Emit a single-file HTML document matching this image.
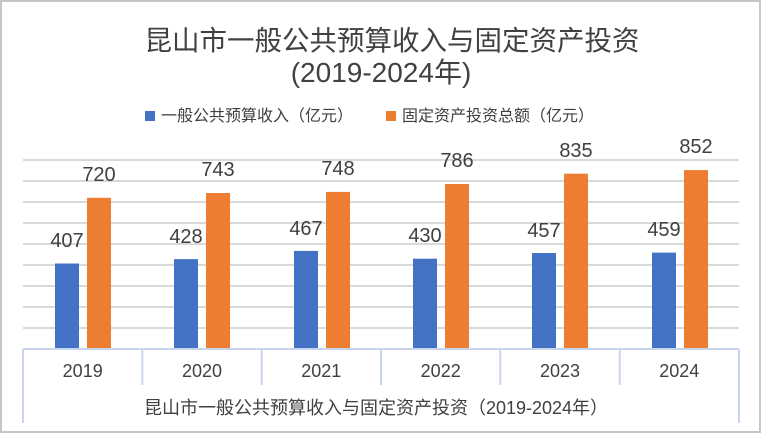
<!DOCTYPE html>
<html><head><meta charset="utf-8"><style>
html,body{margin:0;padding:0;background:#fff}
svg{display:block}
text{font-family:"Liberation Sans","Noto Sans CJK SC",sans-serif;fill:#404040}
</style></head><body>
<svg width="762" height="434" xmlns="http://www.w3.org/2000/svg">
<rect x="1" y="1" width="759" height="431" fill="#fff" stroke="#c6c6c6" stroke-width="2"/>
<text x="392" y="50" font-size="27.5" text-anchor="middle">昆山市一般公共预算收入与固定资产投资</text>
<text x="381" y="82" font-size="28" text-anchor="middle">(2019-2024年)</text>
<rect x="145" y="111" width="10" height="10" fill="#4472c4"/>
<text x="161" y="121" font-size="16">一般公共预算收入（亿元）</text>
<rect x="386" y="111" width="10" height="10" fill="#ed7d31"/>
<text x="402" y="121" font-size="16">固定资产投资总额（亿元）</text>
<g stroke="#d9d9d9" stroke-width="2">
<line x1="23" x2="739" y1="160" y2="160"/><line x1="23" x2="739" y1="181" y2="181"/>
<line x1="23" x2="739" y1="202" y2="202"/><line x1="23" x2="739" y1="223" y2="223"/>
<line x1="23" x2="739" y1="244" y2="244"/><line x1="23" x2="739" y1="265" y2="265"/>
<line x1="23" x2="739" y1="286" y2="286"/><line x1="23" x2="739" y1="307" y2="307"/>
<line x1="23" x2="739" y1="328" y2="328"/>
</g>
<g font-size="20" text-anchor="middle">
<rect x="55" y="263.5" width="24" height="85.5" fill="#4472c4"/><rect x="87" y="197.8" width="24" height="151.2" fill="#ed7d31"/>
<text x="67" y="247">407</text><text x="99" y="181">720</text>
<rect x="174" y="259.1" width="24" height="89.9" fill="#4472c4"/><rect x="206" y="193" width="24" height="156" fill="#ed7d31"/>
<text x="186" y="243">428</text><text x="218" y="176">743</text>
<rect x="294" y="250.9" width="24" height="98.1" fill="#4472c4"/><rect x="326" y="191.9" width="24" height="157.1" fill="#ed7d31"/>
<text x="306" y="235">467</text><text x="338" y="175">748</text>
<rect x="413" y="258.7" width="24" height="90.3" fill="#4472c4"/><rect x="445" y="184" width="24" height="165" fill="#ed7d31"/>
<text x="425" y="242">430</text><text x="457" y="167">786</text>
<rect x="532" y="253" width="24" height="96" fill="#4472c4"/><rect x="564" y="173.7" width="24" height="175.3" fill="#ed7d31"/>
<text x="544" y="237">457</text><text x="576" y="157">835</text>
<rect x="652" y="252.6" width="24" height="96.4" fill="#4472c4"/><rect x="684" y="170.1" width="24" height="178.9" fill="#ed7d31"/>
<text x="664" y="236">459</text><text x="696" y="153">852</text>
</g>
<g stroke="#c9d5ee" stroke-width="2">
<line x1="23" x2="739" y1="349" y2="349"/>
<line x1="23" x2="23" y1="349" y2="423"/><line x1="739" x2="739" y1="349" y2="423"/>
<line x1="142.3" x2="142.3" y1="349" y2="385"/><line x1="261.7" x2="261.7" y1="349" y2="385"/>
<line x1="381" x2="381" y1="349" y2="385"/><line x1="500.3" x2="500.3" y1="349" y2="385"/>
<line x1="619.7" x2="619.7" y1="349" y2="385"/>
</g>
<g font-size="18" text-anchor="middle">
<text x="82.7" y="377">2019</text><text x="202" y="377">2020</text><text x="321.3" y="377">2021</text>
<text x="440.7" y="377">2022</text><text x="560" y="377">2023</text><text x="679.3" y="377">2024</text>
</g>
<text x="376" y="414" font-size="18" text-anchor="middle">昆山市一般公共预算收入与固定资产投资（2019-2024年）</text>
</svg>
</body></html>
